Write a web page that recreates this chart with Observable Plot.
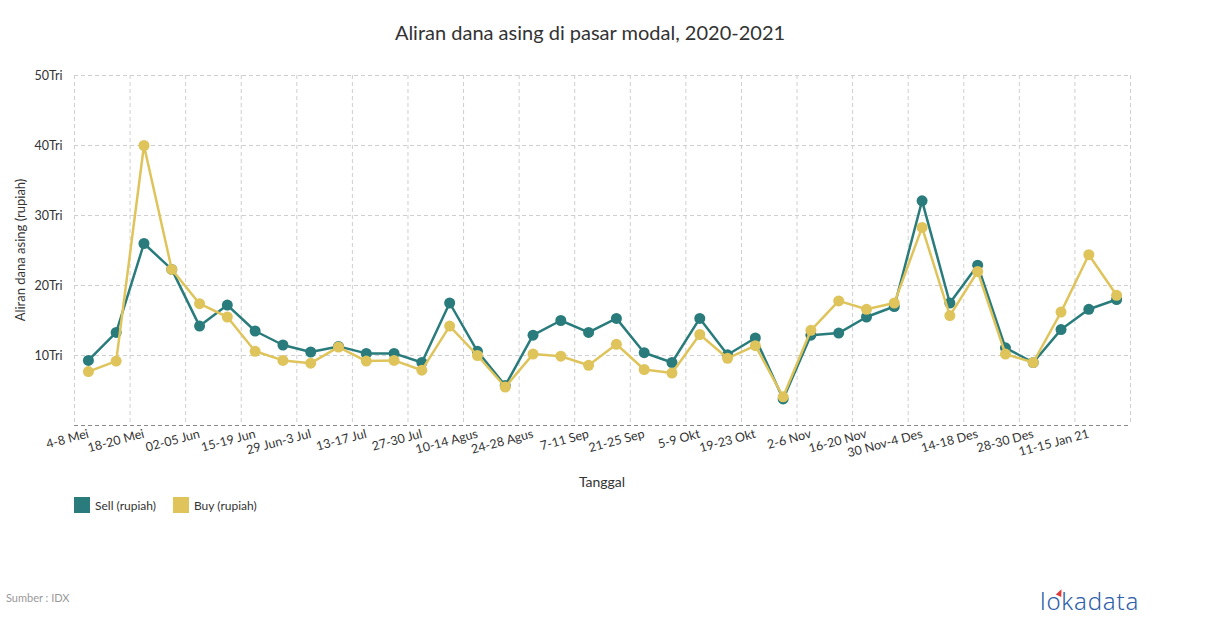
<!DOCTYPE html>
<html>
<head>
<meta charset="utf-8">
<script src="https://cdn.jsdelivr.net/npm/d3@7"></script>
<script src="https://cdn.jsdelivr.net/npm/@observablehq/plot@0.6"></script>
<style>
  html, body { margin: 0; padding: 0; background: #fff; }
  #wrap { position: relative; width: 1210px; height: 628px; font-family: Lato, "Open Sans", sans-serif; color: #333; overflow: hidden; }
  #chart { position: absolute; left: 0; top: 0; }
  .abs { position: absolute; white-space: nowrap; }
  #title { left: 0; width: 1180px; top: 20px; text-align: center; font-size: 20px; color: #333; }
  #ylab { left: 20px; top: 250px; font-size: 13px; transform: translate(-50%, -50%) rotate(-90deg); }
  #xlab { left: 602px; top: 481px; font-size: 14px; transform: translate(-50%, -50%); }
  #legend { left: 74px; top: 497px; font-size: 12px; display: flex; align-items: center; }
  .sw { width: 16px; height: 16px; display: inline-block; margin-right: 5px; }
  .item { display: flex; align-items: center; margin-right: 17px; }
  #source { left: 6px; top: 591px; font-size: 11px; color: #999; }
  #logo { left: 1040px; top: 584px; font-size: 24px; color: #2d5ea8; letter-spacing: 0.8px; font-family: "Noto Sans", Lato, sans-serif; font-weight: 300; }
  #mark { left: 1057px; top: 589px; width: 0; height: 0; border-left: 3px solid transparent; border-right: 3px solid transparent; border-bottom: 7px solid #e03a3a; transform: rotate(25deg); }
</style>
</head>
<body>
<div id="wrap">
  <div id="chart"></div>
  <div id="title" class="abs">Aliran dana asing di pasar modal, 2020-2021</div>
  <div id="ylab" class="abs">Aliran dana asing (rupiah)</div>
  <div id="xlab" class="abs">Tanggal</div>
  <div id="legend" class="abs"></div>
  <div id="source" class="abs">Sumber : IDX</div>
  <div id="logo" class="abs">lokadata</div>
  <div id="mark" class="abs"></div>
</div>
<script>
const categories = [
  "4-8 Mei", "11-15 Mei", "18-20 Mei", "26-29 Mei", "02-05 Jun", "08-12 Jun",
  "15-19 Jun", "22-26 Jun", "29 Jun-3 Jul", "6-10 Jul", "13-17 Jul", "20-24 Jul",
  "27-30 Jul", "3-7 Agus", "10-14 Agus", "18-21 Agus", "24-28 Agus", "31 Agus-4 Sep",
  "7-11 Sep", "14-18 Sep", "21-25 Sep", "28 Sep-2 Okt", "5-9 Okt", "12-16 Okt",
  "19-23 Okt", "26-27 Okt", "2-6 Nov", "9-13 Nov", "16-20 Nov", "23-27 Nov",
  "30 Nov-4 Des", "7-11 Des", "14-18 Des", "21-23 Des", "28-30 Des", "4-8 Jan 21",
  "11-15 Jan 21", "18-22 Jan 21"
];
const tickLabels = [
  "4-8 Mei", "18-20 Mei", "02-05 Jun", "15-19 Jun", "29 Jun-3 Jul", "13-17 Jul",
  "27-30 Jul", "10-14 Agus", "24-28 Agus", "7-11 Sep", "21-25 Sep", "5-9 Okt",
  "19-23 Okt", "2-6 Nov", "16-20 Nov", "30 Nov-4 Des", "14-18 Des", "28-30 Des",
  "11-15 Jan 21"
];
const sell = [
  9.3, 13.3, 26.0, 22.3, 14.2, 17.2, 13.5, 11.5, 10.5, 11.3, 10.3, 10.3,
  9.0, 17.5, 10.6, 5.7, 12.9, 15.0, 13.3, 15.3, 10.4, 9.0, 15.3, 10.1,
  12.5, 3.8, 12.9, 13.2, 15.5, 17.0, 32.1, 17.5, 22.9, 11.1, 9.0, 13.7,
  16.6, 18.0
];
const buy = [
  7.7, 9.2, 40.0, 22.3, 17.4, 15.5, 10.6, 9.3, 8.9, 11.2, 9.2, 9.3,
  7.9, 14.2, 10.0, 5.5, 10.2, 9.9, 8.6, 11.6, 8.0, 7.5, 13.0, 9.6,
  11.4, 4.1, 13.6, 17.8, 16.6, 17.5, 28.3, 15.7, 22.0, 10.2, 9.0, 16.2,
  24.4, 18.6
];
const yTicks = [10, 20, 30, 40, 50];
const seriesNames = ["Sell (rupiah)", "Buy (rupiah)"];
const seriesColors = ["#2a7b7b", "#dfc45c"];

const data = categories.map((c, i) => ({i, c, sell: sell[i], buy: buy[i]}));
const tickIdx = tickLabels.map(t => categories.indexOf(t));
const bounds = d3.range(-0.5, categories.length, 2);

const chart = Plot.plot({
  width: 1210,
  height: 628,
  marginTop: 75,
  marginBottom: 203,
  marginLeft: 74,
  marginRight: 80,
  style: {fontFamily: "Lato, sans-serif", fontSize: "12px", color: "#333", background: "transparent"},
  x: {domain: [-0.5, categories.length - 0.5], axis: null},
  y: {domain: [0, 50], axis: null},
  marks: [
    Plot.ruleY(yTicks, {stroke: "#cfcfcf", strokeDasharray: "4,3"}),
    Plot.ruleX(bounds, {stroke: "#cfcfcf", strokeDasharray: "4,3"}),
    Plot.ruleY([0], {stroke: "#888", strokeDasharray: "4,3"}),
    Plot.axisY({ticks: yTicks, tickFormat: d => d + "Tri", tickSize: 0, tickPadding: 12, label: null, fontSize: 12.5}),
    Plot.axisX({ticks: tickIdx, tickFormat: i => categories[i], tickSize: 0, tickPadding: 8, tickRotate: -15, label: null, fontSize: 12.5}),
    Plot.line(data, {x: "i", y: "sell", stroke: seriesColors[0], strokeWidth: 2.5}),
    Plot.dot(data, {x: "i", y: "sell", fill: seriesColors[0], r: 5.5}),
    Plot.line(data, {x: "i", y: "buy", stroke: seriesColors[1], strokeWidth: 2.5}),
    Plot.dot(data, {x: "i", y: "buy", fill: seriesColors[1], r: 5.5})
  ]
});
document.getElementById("chart").appendChild(chart);

const legend = document.getElementById("legend");
seriesNames.forEach((n, k) => {
  const it = document.createElement("div");
  it.className = "item";
  it.innerHTML = `<span class="sw" style="background:${seriesColors[k]}"></span><span>${n}</span>`;
  legend.appendChild(it);
});
</script>
</body>
</html>
